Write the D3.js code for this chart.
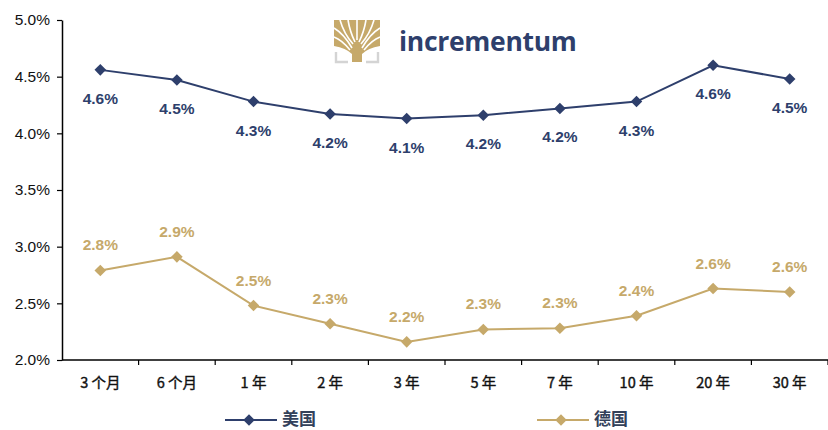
<!DOCTYPE html>
<html>
<head>
<meta charset="utf-8">
<script src="https://cdn.jsdelivr.net/npm/d3@7"></script>
<style>
  html, body { margin: 0; padding: 0; background: #fff; }
  svg { display: block; }
</style>
</head>
<body>
<svg id="chart" width="828" height="430"></svg>
<script>
// Government bond yield curves, US vs Germany
const maturities = ["3 个月", "6 个月", "1 年", "2 年", "3 年", "5 年", "7 年", "10 年", "20 年", "30 年"];
const usYields = [4.56, 4.47, 4.28, 4.17, 4.13, 4.16, 4.22, 4.28, 4.60, 4.48];
const deYields = [2.79, 2.91, 2.48, 2.32, 2.16, 2.27, 2.28, 2.39, 2.63, 2.60];
const yTicks = [2.0, 2.5, 3.0, 3.5, 4.0, 4.5, 5.0];
const seriesNames = ["美国", "德国"];

const navy = "#2E3F6C";
const gold = "#C6A96A";

const svg = d3.select("#chart");
const margin = { left: 62, right: 0, top: 20, bottom: 70 };
const W = 828, H = 430;

const x = d3.scaleBand().domain(maturities).range([margin.left, W - margin.right]);
const y = d3.scaleLinear().domain([2.0, 5.0]).range([H - margin.bottom, margin.top]);

// Y axis
const yAxis = svg.append("g")
  .attr("transform", `translate(${margin.left},0)`)
  .call(d3.axisLeft(y).tickValues(yTicks).tickSize(5).tickSizeOuter(0)
    .tickFormat(d => d.toFixed(1) + "%"));
yAxis.select(".domain").attr("stroke", "#000").attr("stroke-width", 1.5);
yAxis.selectAll(".tick line").attr("stroke", "#000").attr("stroke-width", 1.2);
yAxis.selectAll(".tick text")
  .attr("font-family", "Arial, 'Liberation Sans', sans-serif")
  .attr("font-size", 15.5).attr("fill", "#111").attr("x", -12);

// X axis with ticks at category boundaries
const xAxisG = svg.append("g").attr("transform", `translate(0,${y(2.0)})`);
xAxisG.append("line")
  .attr("x1", margin.left).attr("x2", W).attr("y1", 0).attr("y2", 0)
  .attr("stroke", "#000").attr("stroke-width", 1.5);
const bounds = maturities.map(m => x(m)).concat([x(maturities[maturities.length - 1]) + x.bandwidth()]);
xAxisG.selectAll("line.tk").data(bounds.slice(1)).join("line")
  .attr("class", "tk")
  .attr("x1", d => d).attr("x2", d => d).attr("y1", 0).attr("y2", 5)
  .attr("stroke", "#000").attr("stroke-width", 1.2);
xAxisG.selectAll("text").data(maturities).join("text")
  .attr("x", d => x(d) + x.bandwidth() / 2)
  .attr("y", 28)
  .attr("text-anchor", "middle")
  .attr("font-family", "'Noto Sans CJK SC', sans-serif")
  .attr("font-weight", 400)
  .attr("font-size", 14.5)
  .attr("fill", "#111")
  .attr("stroke", "#111")
  .attr("stroke-width", 0.4)
  .text(d => d);

// Logo: stylised tree mark plus wordmark
const logo = svg.append("g").attr("transform", "translate(334,20)");
logo.append("path")
  .attr("d", "M0,0 H46 V26 Q34,28 28,34 L28,42 H18 L18,34 Q12,28 0,26 Z")
  .attr("fill", "#C6A96A");
const gaps = [
  "M6,0 Q10,14 19,24", "M14,0 Q16,12 21,22", "M23,0 L23,20",
  "M32,0 Q30,12 25,22", "M40,0 Q36,14 27,24",
  "M0,8 Q10,14 18,28", "M46,8 Q36,14 28,28",
  "M0,17 Q8,20 16,30", "M46,17 Q38,20 30,30"
];
logo.selectAll("path.gap").data(gaps).join("path")
  .attr("class", "gap").attr("d", d => d)
  .attr("fill", "none").attr("stroke", "#fff").attr("stroke-width", 1.6);
logo.append("path").attr("d", "M2,32 V42 H14").attr("fill", "none").attr("stroke", "#d4d4d4").attr("stroke-width", 2.4);
logo.append("path").attr("d", "M44,32 V42 H32").attr("fill", "none").attr("stroke", "#d4d4d4").attr("stroke-width", 2.4);
svg.append("text")
  .attr("x", 399).attr("y", 51)
  .attr("font-family", "'Open Sans', Arial, sans-serif")
  .attr("font-weight", 700)
  .attr("font-size", 26.5)
  .attr("letter-spacing", -0.3)
  .attr("fill", "#2E3F6C")
  .text("incrementum");

const cx = d => x(d) + x.bandwidth() / 2;
const line = d3.line().x(d => cx(d.m)).y(d => y(d.v));
const diamond = d3.symbol().type(d3.symbolDiamond2).size(85);

function drawSeries(vals, color, labelDy) {
  const data = maturities.map((m, i) => ({ m, v: vals[i] }));
  const g = svg.append("g");
  g.append("path").datum(data).attr("d", line)
    .attr("fill", "none").attr("stroke", color).attr("stroke-width", 2);
  g.selectAll("path.pt").data(data).join("path")
    .attr("class", "pt")
    .attr("transform", d => `translate(${cx(d.m)},${y(d.v)})`)
    .attr("d", diamond).attr("fill", color);
  g.selectAll("text").data(data).join("text")
    .attr("x", d => cx(d.m))
    .attr("y", d => y(d.v) + labelDy)
    .attr("text-anchor", "middle")
    .attr("font-family", "Arial, 'Liberation Sans', sans-serif")
    .attr("font-weight", 700)
    .attr("font-size", 15.5)
    .attr("fill", color)
    .text(d => d.v.toFixed(1) + "%");
}
drawSeries(usYields, navy, 34);
drawSeries(deYields, gold, -20);

// Legend
const legend = [
  { name: seriesNames[0], color: navy, x: 225 },
  { name: seriesNames[1], color: gold, x: 537 }
];
const lg = svg.selectAll("g.lg").data(legend).join("g")
  .attr("class", "lg").attr("transform", d => `translate(${d.x},420)`);
lg.append("line").attr("x1", 0).attr("x2", 52).attr("stroke", d => d.color).attr("stroke-width", 2);
lg.append("path").attr("transform", "translate(24,0)").attr("d", diamond).attr("fill", d => d.color);
lg.append("text")
  .attr("x", 57).attr("y", 4.5)
  .attr("font-family", "'Noto Sans CJK SC', sans-serif")
  .attr("font-weight", 700).attr("font-size", 17)
  .attr("fill", "#33415A")
  .text(d => d.name);
</script>
</body>
</html>
